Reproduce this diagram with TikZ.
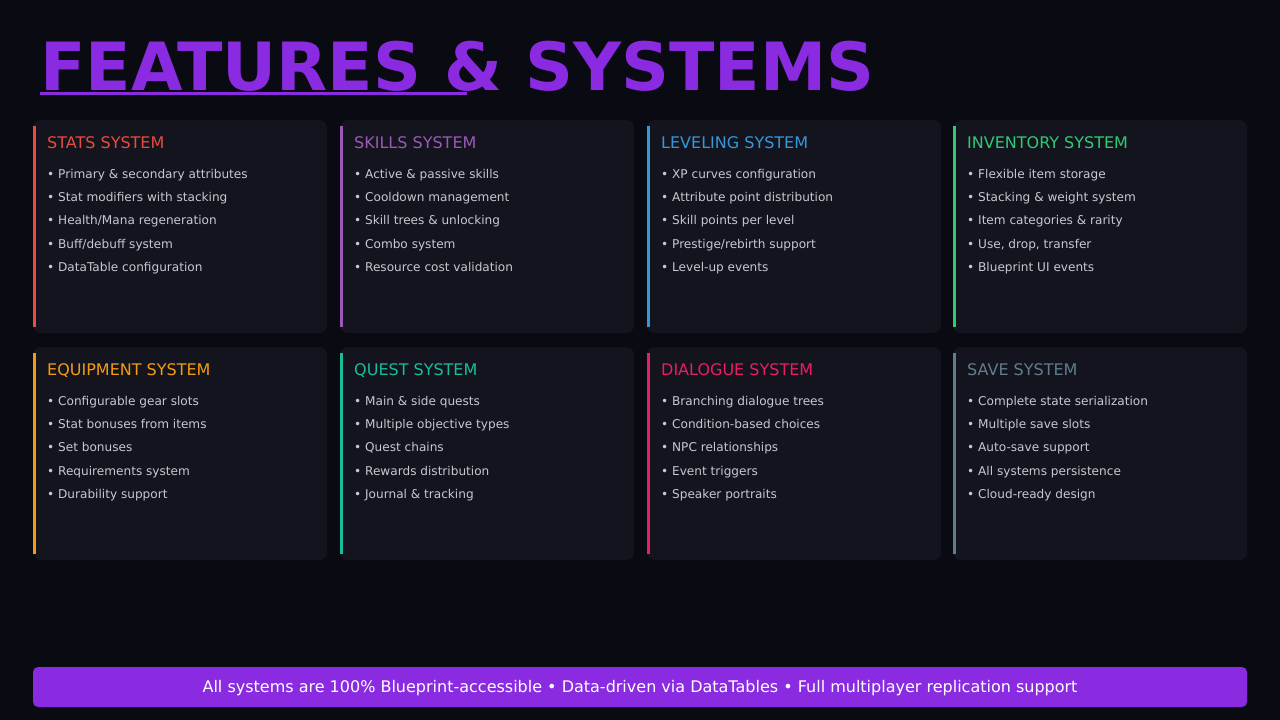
\documentclass[tikz,border=0pt]{standalone}
\usepackage{fontspec}
\setmainfont{DejaVu Sans}
\usetikzlibrary{positioning}
\definecolor{bgdark}{HTML}{0A0A12}
\definecolor{cardbg}{HTML}{14141F}
\definecolor{violet}{HTML}{8A2BE2}
\definecolor{bullettext}{HTML}{C8C8D0}
\definecolor{cStats}{HTML}{E74C3C}
\definecolor{cSkills}{HTML}{9B59B6}
\definecolor{cLevel}{HTML}{3498DB}
\definecolor{cInv}{HTML}{2ECC71}
\definecolor{cEquip}{HTML}{F39C12}
\definecolor{cQuest}{HTML}{1ABC9C}
\definecolor{cDialog}{HTML}{E91E63}
\definecolor{cSave}{HTML}{607D8B}
\tikzset{
  card/.style={fill=cardbg, rounded corners=8pt},
  cardtitle/.style={anchor=base west, inner sep=0pt, font=\fontsize{16}{19}\selectfont},
  item/.style={anchor=base west, inner sep=0pt, text=bullettext, font=\fontsize{12.1}{15}\selectfont},
}
% card: #1 name, #2 x, #3 y, #4 colour, #5 title, #6 items
\newcommand{\featcard}[6]{
  \fill[card] (#2,#3) rectangle ++(294,213);
  \fill[#4] (#2,#3+6) rectangle ++(2.5,201);
  \node[cardtitle, text=#4] (#1) at (#2+14,#3+28) {#5};
  \foreach \txt [count=\i] in {#6}
    \node[item] (#1-\i) at (#2+14,#3+58+23.4*\i-23.4) {• \txt};
}
\begin{document}
\begin{tikzpicture}[x=1pt, y=-1pt]
  \fill[bgdark] (0,0) rectangle (1280,720);
  \useasboundingbox (0,0) rectangle (1280,720);
  % title
  \node[anchor=base west, inner sep=0pt, text=violet, font=\bfseries\fontsize{66.5}{70}\selectfont] (title) at (40,90) {FEATURES \& SYSTEMS};
  \fill[violet] (40,92) rectangle (467,95);
  % row 1
  \featcard{stats}{33}{120}{cStats}{STATS SYSTEM}{Primary \& secondary attributes, Stat modifiers with stacking, Health/Mana regeneration, Buff/debuff system, DataTable configuration}
  \featcard{skills}{340}{120}{cSkills}{SKILLS SYSTEM}{Active \& passive skills, Cooldown management, Skill trees \& unlocking, Combo system, Resource cost validation}
  \featcard{level}{647}{120}{cLevel}{LEVELING SYSTEM}{XP curves configuration, Attribute point distribution, Skill points per level, Prestige/rebirth support, Level-up events}
  \featcard{inv}{953}{120}{cInv}{INVENTORY SYSTEM}{Flexible item storage, Stacking \& weight system, Item categories \& rarity, {Use, drop, transfer}, Blueprint UI events}
  % row 2
  \featcard{equip}{33}{347}{cEquip}{EQUIPMENT SYSTEM}{Configurable gear slots, Stat bonuses from items, Set bonuses, Requirements system, Durability support}
  \featcard{quest}{340}{347}{cQuest}{QUEST SYSTEM}{Main \& side quests, Multiple objective types, Quest chains, Rewards distribution, Journal \& tracking}
  \featcard{dialog}{647}{347}{cDialog}{DIALOGUE SYSTEM}{Branching dialogue trees, Condition-based choices, NPC relationships, Event triggers, Speaker portraits}
  \featcard{save}{953}{347}{cSave}{SAVE SYSTEM}{Complete state serialization, Multiple save slots, Auto-save support, All systems persistence, Cloud-ready design}
  % footer
  \fill[violet, rounded corners=5pt] (33,667) rectangle (1247,707);
  \node[text=white, font=\fontsize{16}{19}\selectfont] (footer) at (640,688.5) {All systems are 100\% Blueprint-accessible • Data-driven via DataTables • Full multiplayer replication support};
\end{tikzpicture}
\end{document}
